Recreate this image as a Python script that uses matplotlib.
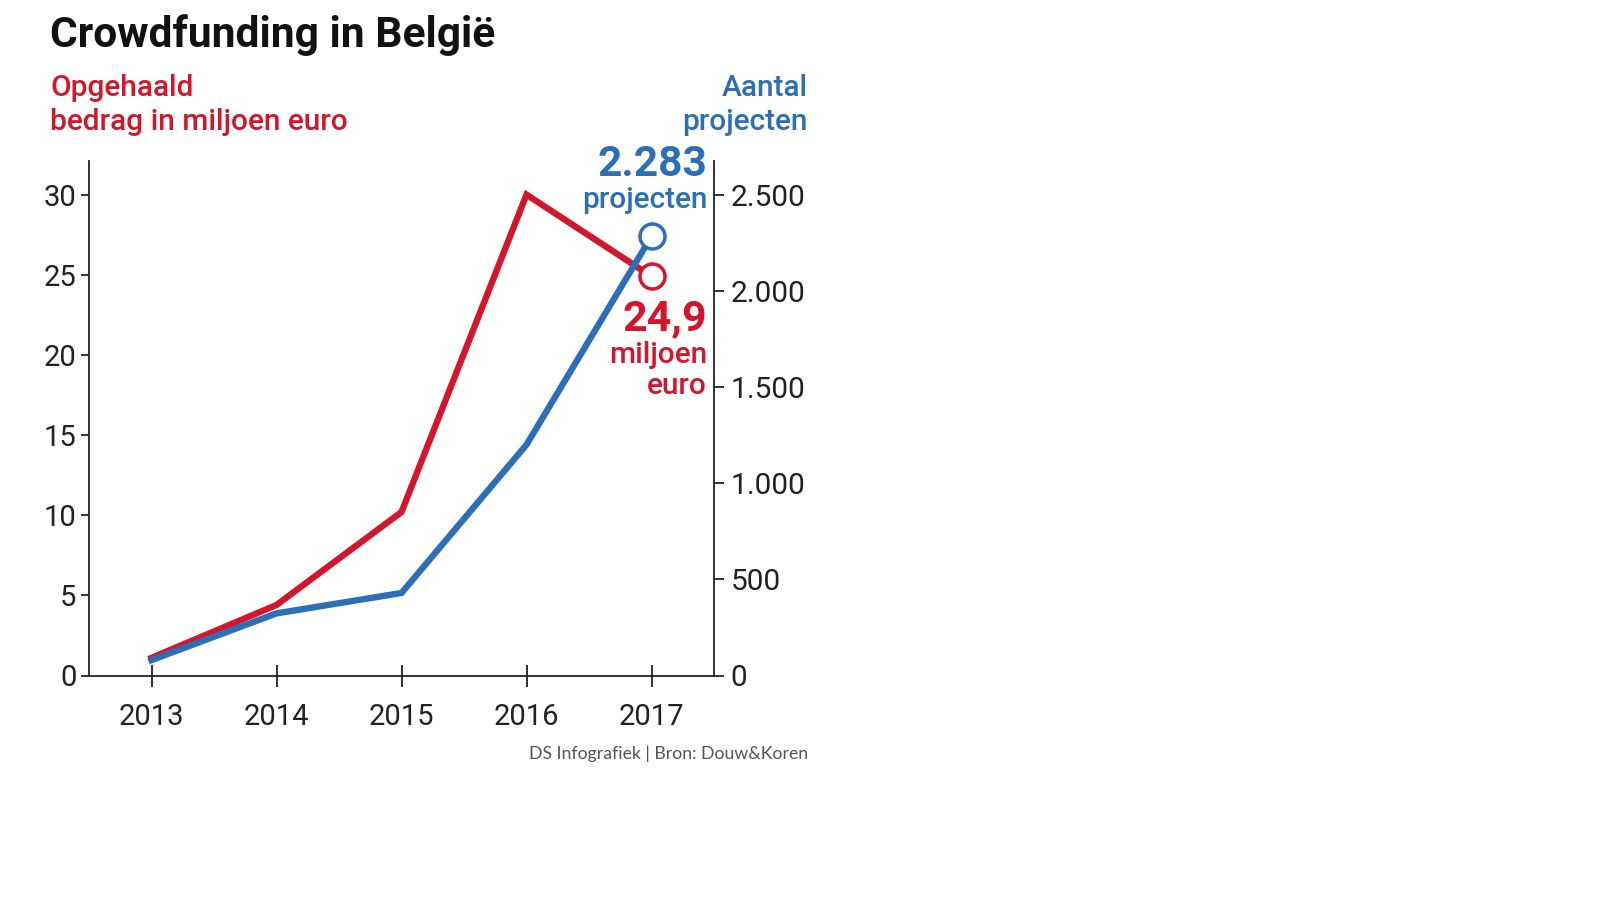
import matplotlib
matplotlib.use("Agg")
import matplotlib.pyplot as plt
from matplotlib.ticker import FixedLocator, FixedFormatter

# ---- data ----
years = [2013, 2014, 2015, 2016, 2017]
bedrag = [1.1, 4.4, 10.2, 30.0, 24.9]          # miljoen euro (linker as)
projecten = [80, 323, 429, 1200, 2283]          # aantal projecten (rechter as)

left_ticks = [0, 5, 10, 15, 20, 25, 30]
right_ticks = [0, 500, 1000, 1500, 2000, 2500]
right_labels = ["0", "500", "1.000", "1.500", "2.000", "2.500"]

RED = "#d3162c"
BLUE = "#2c6fb7"
W, H = 1600, 900

plt.rcParams['font.family'] = ['Roboto', 'DejaVu Sans']


def px(x, y):
    # pixel coords (from top-left) -> figure fraction
    return x / W, 1 - y / H


fig = plt.figure(figsize=(16, 9), dpi=100)
ax = fig.add_axes([89 / W, 1 - 675.5 / H, (714 - 89) / W, (675.5 - 161) / H])
ax2 = ax.twinx()

ymax = 32.1
ax.set_xlim(2012.5, 2017.5)
ax.set_ylim(0, ymax)
ax2.set_ylim(0, ymax * 2500 / 30)

ax.plot(years, bedrag, color=RED, lw=4.6, solid_joinstyle='miter', zorder=2)
ax.plot(years[-1], bedrag[-1], 'o', ms=18, mfc='white', mec=RED, mew=2.5, zorder=3)
ax2.plot(years, projecten, color=BLUE, lw=4.6, solid_joinstyle='miter', zorder=2)
ax2.plot(years[-1], projecten[-1], 'o', ms=18, mfc='white', mec=BLUE, mew=2.5, zorder=3)

# spines
for a in (ax, ax2):
    a.spines['top'].set_visible(False)
    for s in a.spines.values():
        s.set_linewidth(1.3)
        s.set_color('#222222')
ax.spines['right'].set_visible(False)
ax2.spines['left'].set_visible(False)
ax2.spines['bottom'].set_visible(False)

# ticks
ax.xaxis.set_major_locator(FixedLocator(years))
ax.xaxis.set_major_formatter(FixedFormatter([str(y) for y in years]))
ax.yaxis.set_major_locator(FixedLocator(left_ticks))
ax2.yaxis.set_major_locator(FixedLocator(right_ticks))
ax2.yaxis.set_major_formatter(FixedFormatter(right_labels))

ax.tick_params(axis='x', direction='inout', length=16, width=1.3, pad=12,
               labelsize=21, colors='#222222')
ax.tick_params(axis='y', direction='out', length=6, width=1.3, pad=3,
               labelsize=21, colors='#222222')
ax2.tick_params(axis='y', direction='out', length=7, width=1.3, pad=5,
                labelsize=21.5, colors='#222222')

# ---- texts ----
fig.text(*px(50, 35), "Crowdfunding in België", fontsize=30.6, fontweight='bold',
         color='#111111', ha='left', va='center')

fig.text(*px(50, 88), "Opgehaald", fontsize=21.5, fontweight='medium',
         color=RED, ha='left', va='center')
fig.text(*px(50, 121.5), "bedrag in miljoen euro", fontsize=21.5, fontweight='medium',
         color=RED, ha='left', va='center')
fig.text(*px(808, 88), "Aantal", fontsize=21.5, fontweight='medium',
         color=BLUE, ha='right', va='center')
fig.text(*px(808, 121.5), "projecten", fontsize=21.5, fontweight='medium',
         color=BLUE, ha='right', va='center')

fig.text(*px(707, 164), "2.283", fontsize=30.5, fontweight='bold',
         color=BLUE, ha='right', va='center')
fig.text(*px(707, 200), "projecten", fontsize=21.5, fontweight='medium',
         color=BLUE, ha='right', va='center')

fig.text(*px(707, 319), "24,9", fontsize=31, fontweight='bold',
         color=RED, ha='right', va='center')
fig.text(*px(707, 355), "miljoen", fontsize=21.5, fontweight='medium',
         color=RED, ha='right', va='center')
fig.text(*px(707, 386), "euro", fontsize=21.5, fontweight='medium',
         color=RED, ha='right', va='center')

fig.text(*px(808, 754), "DS Infografiek | Bron: Douw&Koren", fontsize=12.7,
         family=['Lato', 'DejaVu Sans'], color='#555555', ha='right', va='center')

fig.savefig("out.png", dpi=100, facecolor='white')
